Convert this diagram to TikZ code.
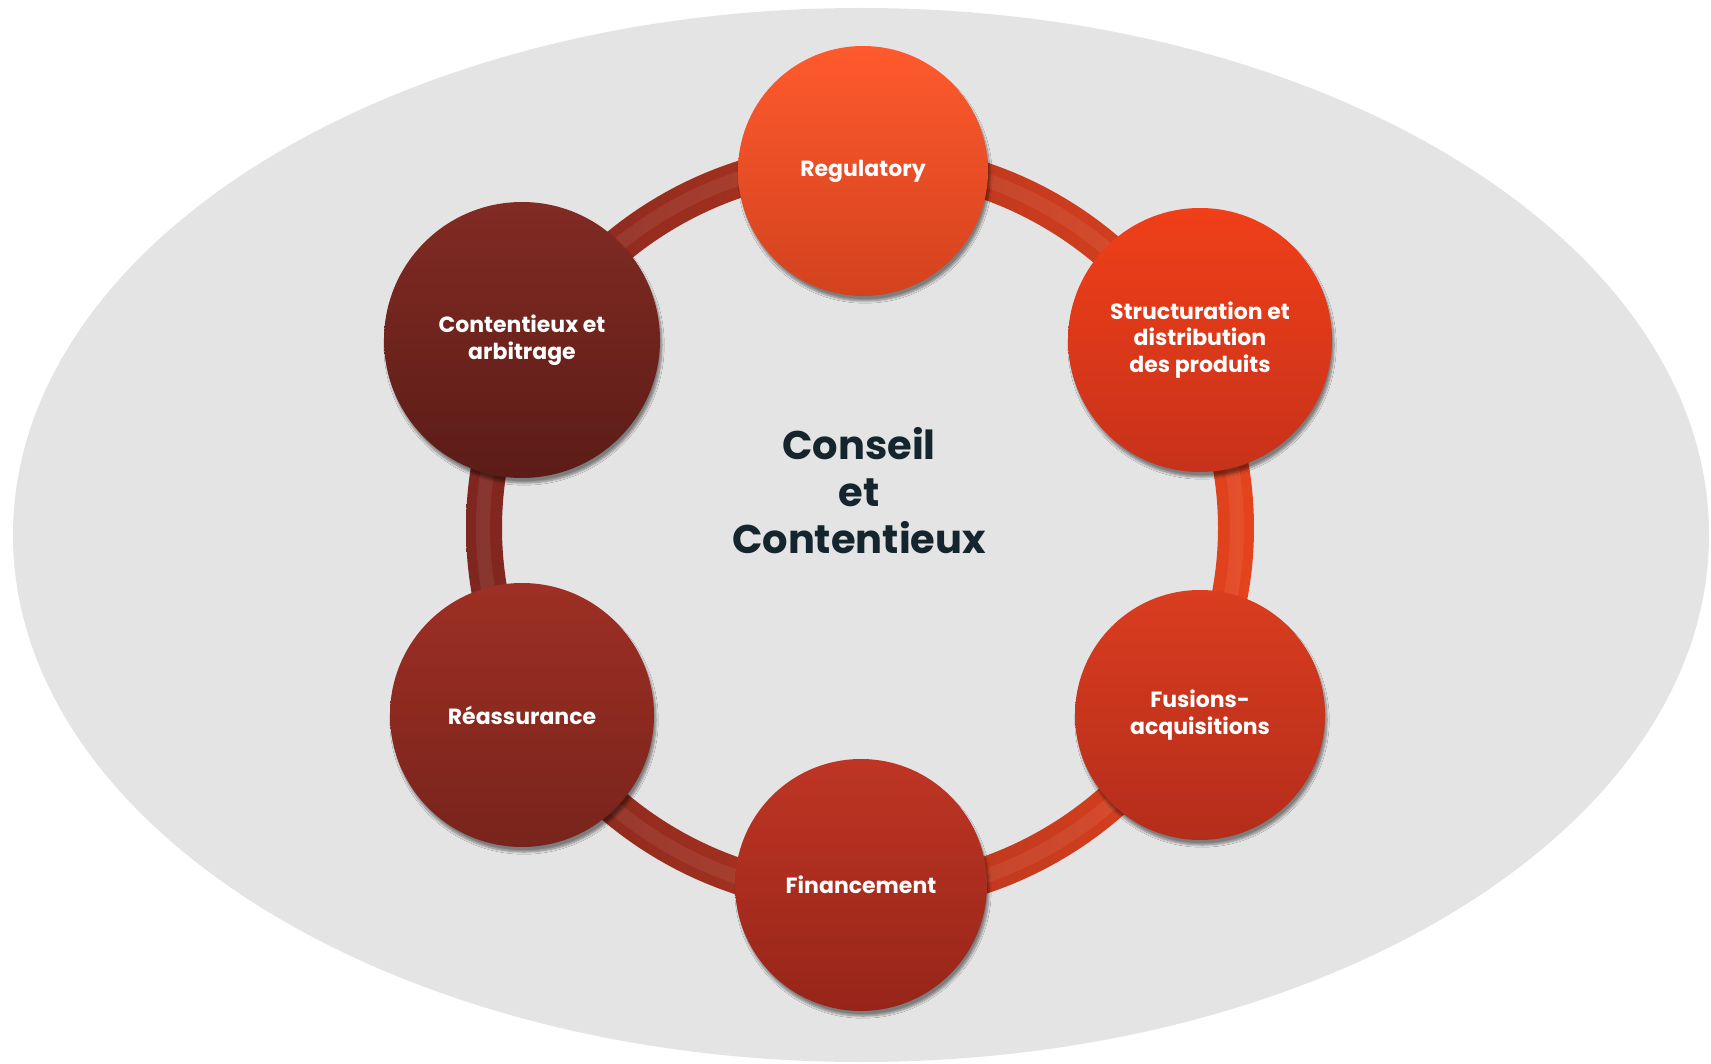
\documentclass[tikz,border=0pt]{standalone}
\usepackage{fontspec}
\setmainfont{Poppins}
\usetikzlibrary{shadows.blur}
\definecolor{bggray}{HTML}{E4E4E4}
\definecolor{titlecol}{HTML}{14252D}
\definecolor{ringL}{HTML}{7E2620}
\definecolor{ringR}{HTML}{E4431D}
\definecolor{regT}{HTML}{FF5A2D}\definecolor{regB}{HTML}{D3421E}
\definecolor{strT}{HTML}{F03F19}\definecolor{strB}{HTML}{C7321A}
\definecolor{fusT}{HTML}{DA3D1F}\definecolor{fusB}{HTML}{B42D1B}
\definecolor{finT}{HTML}{BF3524}\definecolor{finB}{HTML}{962519}
\definecolor{reaT}{HTML}{9E2F24}\definecolor{reaB}{HTML}{78241C}
\definecolor{conT}{HTML}{812B23}\definecolor{conB}{HTML}{5C1C17}
\tikzset{
  bubble/.style={circle, inner sep=0pt, text=white, align=center,
    font=\fontsize{22}{26.5}\selectfont\bfseries,
    blur shadow={shadow xshift=2pt, shadow yshift=-5pt, shadow blur steps=8, shadow opacity=45}},
  titletext/.style={align=center, font=\fontsize{40}{47}\selectfont\bfseries}
}
\begin{document}
\begin{tikzpicture}[x=1pt,y=-1pt]
\useasboundingbox (0,0) rectangle (1711,1064);
\fill[white] (0,0) rectangle (1711,1064);
% background ellipse
\fill[bggray] (861,535) ellipse [x radius=848pt, y radius=527pt];
% ring
\shade[left color=ringL, right color=ringR, even odd rule]
  (860,528) ellipse [x radius=394pt, y radius=386pt]
  (860,528) ellipse [x radius=358pt, y radius=350pt];
\draw[white, opacity=0.07, line width=14pt] (860,528) ellipse [x radius=377pt, y radius=369pt];
% title
\node[titletext, text=titlecol] (title) at (859,491) {Conseil\\et\\Contentieux};
% circles
\node[bubble, minimum size=250pt, top color=regT, bottom color=regB] (reg) at (863,171) {Regulatory};
\node[bubble, minimum size=264pt, top color=strT, bottom color=strB] (str) at (1200,340) {Structuration et\\distribution\\des produits};
\node[bubble, minimum size=250pt, top color=fusT, bottom color=fusB] (fus) at (1200,715) {Fusions-\\acquisitions};
\node[bubble, minimum size=252pt, top color=finT, bottom color=finB] (fin) at (861,885) {Financement};
\node[bubble, minimum size=264pt, top color=reaT, bottom color=reaB] (rea) at (522,715) {Réassurance};
\node[bubble, minimum size=276pt, top color=conT, bottom color=conB] (con) at (522,340) {Contentieux et\\arbitrage};
\end{tikzpicture}
\end{document}
